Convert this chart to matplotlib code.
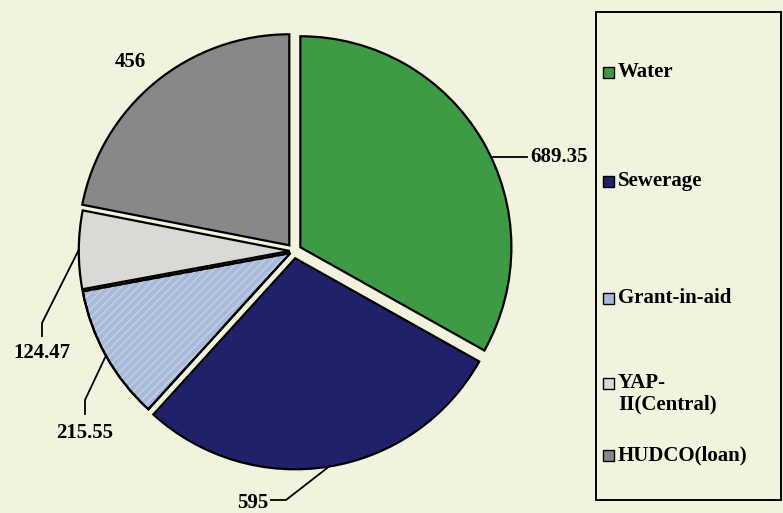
import numpy as np
import matplotlib.pyplot as plt
from matplotlib.patches import Rectangle, Wedge

# funding sources (Rs. crore)
labels = ['Water', 'Sewerage', 'Grant-in-aid', 'YAP-\nII(Central)', 'HUDCO(loan)']
values = [689.35, 595, 215.55, 124.47, 456]
value_text = ['689.35', '595', '215.55', '124.47', '456']
colors = ['#3d9a45', '#1f216b', '#a9bad9', '#d9dad6', '#888888']
explode = [0.035, 0.035, 0.02, 0.02, 0.035]

plt.rcParams['font.family'] = 'Liberation Serif'
plt.rcParams['font.weight'] = 'bold'

bg = '#f2f3de'
W, H = 783, 513
R = 211.0
cx, cy = 294.0, 251.0


def px(x, y):
    # pixel position (from top left) -> data coords of the pie axes
    return (x - cx) / R, (cy - y) / R


fig = plt.figure(figsize=(W / 100, H / 100), dpi=100, facecolor=bg)
ax = fig.add_axes([0, 0, 1, 1])

wedges, _ = ax.pie(values, colors=colors, explode=explode, startangle=90,
                   counterclock=False,
                   wedgeprops=dict(edgecolor='black', linewidth=1.6))
ax.set_xlim(-cx / R, (W - cx) / R)
ax.set_ylim(-(H - cy) / R, cy / R)
ax.set_aspect('auto')
ax.axis('off')

# faint stripes on the grant slice
g = wedges[2]
ax.add_patch(Wedge(g.center, g.r, g.theta1, g.theta2, facecolor='none',
                   edgecolor='#c4d0e8', hatch='////', linewidth=0))
ax.add_patch(Wedge(g.center, g.r, g.theta1, g.theta2, facecolor='none',
                   edgecolor='black', linewidth=1.6))


def edge_point(w, ang):
    a = np.deg2rad(ang)
    return w.center[0] + w.r * np.cos(a), w.center[1] + w.r * np.sin(a)


mid = [(w.theta1 + w.theta2) / 2 for w in wedges]
fs = 15

# Water: horizontal leader to the right
tx, ty = px(530, 157)
w = wedges[0]
ang = np.degrees(np.arcsin((ty - w.center[1]) / w.r))
ex, ey = edge_point(w, ang)
ax.plot([ex, px(527, 157)[0]], [ey, ty], color='black', lw=1.3)
ax.text(tx, ty, value_text[0], ha='left', va='center', fontsize=fs)

# Sewerage
ex, ey = edge_point(wedges[1], mid[1])
bx, by = px(286, 500)
ax.plot([ex, bx, px(271, 500)[0]], [ey, by, by], color='black', lw=1.3)
tx, ty = px(268, 503)
ax.text(tx, ty, value_text[1], ha='right', va='center', fontsize=fs)

# Grant-in-aid and YAP: bent leaders down to the text
for i, (lx, ly1, ly2, ty_px) in zip([2, 3], [(85, 400, 414, 433), (42, 323, 336, 353)]):
    ex, ey = edge_point(wedges[i], mid[i])
    bx, by = px(lx, ly1)
    _, by2 = px(lx, ly2)
    ax.plot([ex, bx, bx], [ey, by, by2], color='black', lw=1.3)
    tx, ty = px(lx, ty_px)
    ax.text(tx, ty, value_text[i], ha='center', va='center', fontsize=fs)

# HUDCO: plain label outside the slice
tx, ty = px(130, 62)
ax.text(tx, ty, value_text[4], ha='center', va='center', fontsize=fs)

# legend box
x0, y0 = px(596, 500)
x1, y1 = px(781, 12)
ax.add_patch(Rectangle((x0, y0), x1 - x0, y1 - y0, facecolor='none',
                       edgecolor='black', linewidth=1.4, clip_on=False))
legend_y = [72, 181, 298, 394, 455]
square_y = [72, 181, 298, 383, 455]
s = 11 / R
for lab, col, ly, sy in zip(labels, colors, legend_y, square_y):
    sx, syd = px(603, sy)
    ax.add_patch(Rectangle((sx, syd - s / 2), s, s, facecolor=col,
                           edgecolor='black', linewidth=1.0))
    lx, lyd = px(618, ly)
    ax.text(lx, lyd, lab, ha='left', va='center', fontsize=fs, linespacing=1.1)

fig.savefig('out.png', dpi=100, facecolor=bg)
